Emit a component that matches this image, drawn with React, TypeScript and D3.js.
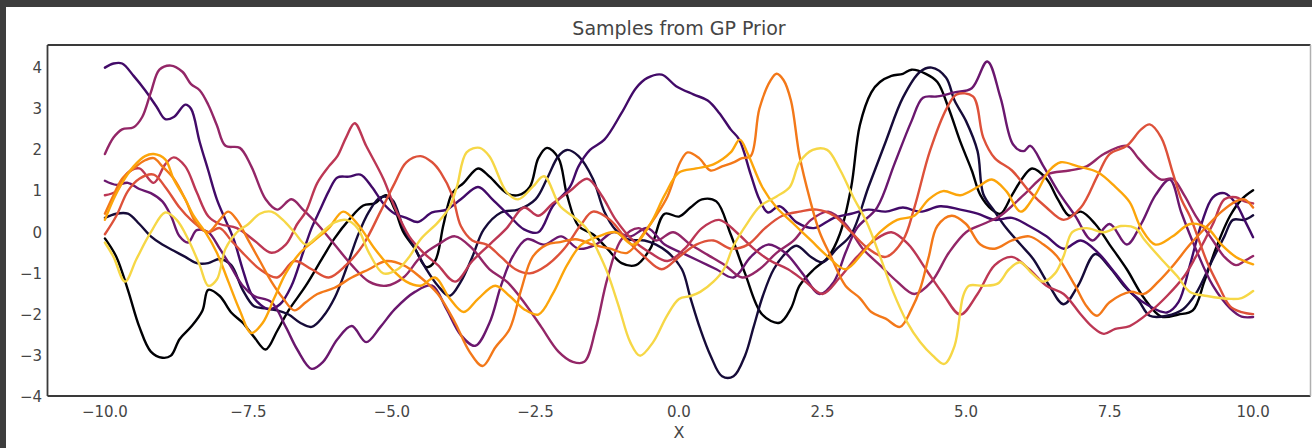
import React from "react";
import * as d3 from "d3";

const TITLE = "Samples from GP Prior";
const X_LABEL = "X";
const X_TICKS = [-10, -7.5, -5, -2.5, 0, 2.5, 5, 7.5, 10];
const Y_TICKS = [-4, -3, -2, -1, 0, 1, 2, 3, 4];
const X_DOMAIN: [number, number] = [-11, 11];
const Y_DOMAIN: [number, number] = [-3.98, 4.55];

type P = [number, number];

const sampleK: P[] = [[-10,-0.15],[-9.8,-0.6],[-9.6,-1.4],[-9.4,-2.3],[-9.2,-2.9],[-9.0,-3.05],[-8.85,-3.0],[-8.7,-2.6],[-8.5,-2.3],[-8.3,-1.9],[-8.2,-1.4],[-8.0,-1.55],[-7.8,-1.95],[-7.6,-2.2],[-7.4,-2.55],[-7.2,-2.85],[-7.0,-2.4],[-6.8,-1.9],[-6.5,-1.3],[-6.2,-0.6],[-6.0,-0.15],[-5.75,0.3],[-5.5,0.65],[-5.3,0.7],[-5.1,0.9],[-4.95,0.55],[-4.8,0.0],[-4.6,-0.4],[-4.4,-0.85],[-4.25,-0.7],[-4.1,0.2],[-3.95,0.95],[-3.75,1.2],[-3.5,1.55],[-3.3,1.35],[-3.0,0.95],[-2.8,0.9],[-2.6,1.1],[-2.45,1.8],[-2.3,2.05],[-2.1,1.8],[-1.95,0.9],[-1.75,0.15],[-1.5,-0.05],[-1.25,-0.4],[-1.0,-0.75],[-0.75,-0.8],[-0.5,-0.4],[-0.25,0.45],[0.0,0.38],[0.2,0.6],[0.4,0.8],[0.65,0.75],[0.9,-0.05],[1.15,-1.0],[1.45,-2.0],[1.75,-2.2],[1.95,-1.85],[2.1,-1.3],[2.35,-0.9],[2.6,-0.6],[2.8,-0.05],[3.0,1.1],[3.15,2.6],[3.35,3.4],[3.5,3.65],[3.7,3.8],[3.9,3.85],[4.05,3.95],[4.3,3.85],[4.5,3.65],[4.7,3.0],[4.9,2.2],[5.1,1.5],[5.25,0.9],[5.45,0.55],[5.6,0.45],[5.8,0.9],[6.0,1.35],[6.15,1.55],[6.4,1.3],[6.6,0.8],[6.8,0.4],[7.0,0.5],[7.25,0.2],[7.5,-0.3],[7.8,-0.9],[8.1,-1.6],[8.4,-2.05],[8.7,-2.0],[8.95,-1.9],[9.15,-1.2],[9.35,-0.4],[9.6,0.4],[9.8,0.8],[10,1.02]];

const sampleN: P[] = [[-10,0.35],[-9.8,0.45],[-9.6,0.45],[-9.4,0.2],[-9.2,-0.1],[-9.0,-0.3],[-8.8,-0.45],[-8.6,-0.6],[-8.4,-0.75],[-8.2,-0.75],[-8.0,-0.65],[-7.8,-0.8],[-7.6,-1.4],[-7.4,-1.8],[-7.2,-1.85],[-7.0,-1.9],[-6.8,-2.0],[-6.6,-2.2],[-6.4,-2.3],[-6.2,-2.05],[-6.0,-1.6],[-5.8,-0.9],[-5.6,-0.1],[-5.4,0.5],[-5.2,0.85],[-5.0,0.8],[-4.8,0.1],[-4.6,-0.4],[-4.4,-0.9],[-4.2,-1.3],[-4.0,-1.55],[-3.8,-1.2],[-3.6,-0.6],[-3.4,0.07],[-3.1,0.48],[-2.8,0.55],[-2.5,0.8],[-2.3,1.3],[-2.1,1.85],[-1.95,2.0],[-1.75,1.85],[-1.5,1.3],[-1.3,0.5],[-1.1,0.05],[-0.9,-0.17],[-0.6,-0.2],[-0.4,-0.3],[-0.2,-0.48],[0.05,-0.9],[0.2,-1.6],[0.37,-2.35],[0.55,-3.0],[0.75,-3.5],[0.95,-3.5],[1.15,-3.0],[1.3,-2.3],[1.46,-1.55],[1.65,-0.9],[1.88,-0.48],[2.05,-0.33],[2.3,-0.6],[2.5,-0.73],[2.75,-0.4],[3.0,-0.05],[3.3,1.1],[3.6,2.2],[3.9,3.27],[4.2,3.9],[4.4,4.0],[4.65,3.76],[4.8,3.2],[5.0,2.7],[5.2,1.97],[5.3,0.93],[5.5,0.5],[5.7,0.1],[5.95,-0.3],[6.17,-0.65],[6.45,-1.3],[6.7,-1.75],[6.95,-1.3],[7.25,-0.53],[7.5,-0.85],[7.75,-1.3],[8.0,-1.65],[8.2,-2.03],[8.5,-2.03],[8.78,-1.87],[9.0,-1.5],[9.3,-0.65],[9.5,-0.1],[9.65,0.3],[9.85,0.3],[10,0.41]];

const sampleP1: P[] = [[-10,4.0],[-9.85,4.1],[-9.7,4.1],[-9.5,3.8],[-9.3,3.45],[-9.1,3.05],[-8.95,2.75],[-8.8,2.8],[-8.6,3.1],[-8.5,3.0],[-8.35,2.2],[-8.2,1.5],[-8.05,0.8],[-7.9,0.3],[-7.75,-0.2],[-7.6,-0.9],[-7.45,-1.5],[-7.3,-1.75],[-7.15,-1.87],[-6.95,-1.75],[-6.75,-1.3],[-6.55,-0.5],[-6.4,0.1],[-6.25,0.55],[-6.1,1.0],[-5.95,1.33],[-5.75,1.35],[-5.55,1.4],[-5.35,1.1],[-5.15,0.7],[-4.95,0.45],[-4.75,0.35],[-4.55,0.25],[-4.3,0.48],[-4.05,0.55],[-3.8,0.8],[-3.5,1.1],[-3.25,0.8],[-2.95,0.39],[-2.7,0.07],[-2.45,0.0],[-2.2,0.63],[-1.9,1.1],[-1.75,1.6],[-1.55,2.0],[-1.3,2.25],[-1.0,2.9],[-0.75,3.5],[-0.55,3.75],[-0.3,3.83],[-0.05,3.55],[0.25,3.35],[0.5,3.2],[0.7,2.9],[0.9,2.5],[1.05,2.25],[1.25,1.4],[1.4,0.8],[1.55,0.48],[1.75,0.63],[2.05,0.24],[2.35,0.1],[2.7,0.35],[3.0,0.45],[3.3,0.55],[3.6,0.5],[3.9,0.6],[4.2,0.5],[4.55,0.63],[4.9,0.55],[5.2,0.45],[5.5,0.3],[5.8,0.35],[6.1,0.15],[6.4,-0.1],[6.7,-0.4],[7.0,-0.2],[7.3,-0.5],[7.6,-1.0],[7.9,-1.5],[8.2,-1.8],[8.5,-1.95],[8.7,-1.7],[8.9,-0.8],[9.1,0.2],[9.3,0.85],[9.5,0.95],[9.7,0.7],[9.85,0.3],[10,-0.12]];

const sampleP2: P[] = [[-10,1.25],[-9.8,1.15],[-9.6,1.2],[-9.4,1.05],[-9.2,0.95],[-9.0,0.75],[-8.85,0.4],[-8.7,-0.1],[-8.55,-0.25],[-8.4,0.05],[-8.2,0.0],[-8.0,-0.4],[-7.8,-0.85],[-7.6,-1.3],[-7.4,-1.55],[-7.1,-1.7],[-6.85,-2.3],[-6.65,-2.85],[-6.4,-3.32],[-6.2,-3.15],[-5.95,-2.6],[-5.7,-2.28],[-5.45,-2.67],[-5.2,-2.3],[-4.95,-1.87],[-4.6,-1.45],[-4.3,-1.3],[-4.05,-1.87],[-3.8,-2.5],[-3.55,-2.76],[-3.3,-2.2],[-3.1,-1.3],[-2.9,-0.6],[-2.65,-0.17],[-2.35,-0.3],[-2.05,-0.1],[-1.75,-0.4],[-1.45,-0.3],[-1.15,0.0],[-0.85,-0.1],[-0.55,0.1],[-0.25,-0.3],[0.05,-0.5],[0.35,-0.7],[0.65,-0.9],[0.95,-1.1],[1.25,-0.6],[1.55,-0.3],[1.85,-0.5],[2.15,-1.0],[2.45,-1.5],[2.7,-1.2],[2.9,-0.5],[3.1,0.1],[3.45,0.6],[3.75,1.65],[4.05,2.7],[4.25,3.27],[4.5,3.3],[4.8,3.4],[5.1,3.5],[5.37,4.15],[5.6,3.27],[5.82,2.13],[6.0,1.97],[6.12,2.1],[6.35,1.6],[6.6,1.0],[6.9,0.4],[7.2,-0.2],[7.5,0.2],[7.8,-0.3],[8.05,0.2],[8.3,0.9],[8.55,1.28],[8.75,0.48],[9.0,-0.4],[9.3,-1.3],[9.6,-1.85],[9.8,-2.05],[10,-2.06]];

const sampleM: P[] = [[-10,1.9],[-9.85,2.3],[-9.7,2.5],[-9.5,2.55],[-9.35,2.8],[-9.2,3.4],[-9.05,3.95],[-8.85,4.05],[-8.65,3.9],[-8.5,3.6],[-8.35,3.45],[-8.2,3.1],[-8.05,2.6],[-7.9,2.1],[-7.65,2.05],[-7.45,1.6],[-7.2,0.8],[-7.0,0.55],[-6.75,0.8],[-6.55,0.55],[-6.3,0.2],[-6.0,-0.3],[-5.7,-0.8],[-5.4,-1.2],[-5.1,-1.3],[-4.8,-1.1],[-4.5,-0.6],[-4.2,-0.3],[-3.9,-0.1],[-3.6,-0.4],[-3.3,-0.9],[-3.0,-1.2],[-2.7,-1.7],[-2.4,-2.3],[-2.1,-2.9],[-1.85,-3.15],[-1.65,-3.15],[-1.45,-2.35],[-1.25,-1.14],[-1.0,-0.17],[-0.7,0.1],[-0.4,-0.2],[-0.1,0.0],[0.2,-0.3],[0.5,-0.55],[0.8,-0.8],[1.1,-1.1],[1.4,-0.9],[1.7,-0.5],[2.0,-0.2],[2.3,0.3],[2.6,0.5],[2.9,0.2],[3.2,-0.4],[3.5,-0.8],[3.8,-1.2],[4.1,-1.5],[4.4,-1.2],[4.7,-0.5],[5.0,0.0],[5.3,0.2],[5.6,0.4],[6.0,0.9],[6.4,1.4],[6.8,1.5],[7.1,1.6],[7.4,1.9],[7.8,2.1],[8.0,1.8],[8.2,1.5],[8.4,1.28],[8.6,1.3],[8.8,0.9],[9.0,0.4],[9.3,-0.2],[9.5,-0.6],[9.7,-0.8],[9.85,-0.7],[10,-0.58]];

const sampleMR: P[] = [[-10,0.9],[-9.8,1.0],[-9.6,1.45],[-9.4,1.55],[-9.15,1.2],[-8.95,1.65],[-8.8,1.82],[-8.6,1.6],[-8.4,0.97],[-8.2,0.39],[-8.0,0.2],[-7.7,0.1],[-7.4,-0.2],[-7.1,-0.5],[-6.85,-0.3],[-6.65,0.2],[-6.5,0.5],[-6.3,1.2],[-6.1,1.6],[-5.95,1.85],[-5.8,2.3],[-5.65,2.65],[-5.45,2.1],[-5.15,1.3],[-4.95,0.6],[-4.7,-0.1],[-4.45,-0.5],[-4.2,-0.8],[-3.9,-1.2],[-3.6,-0.7],[-3.3,-0.3],[-3.0,0.1],[-2.7,0.6],[-2.45,0.4],[-2.2,0.7],[-1.9,1.0],[-1.6,1.3],[-1.35,0.9],[-1.1,0.3],[-0.8,-0.2],[-0.5,-0.5],[-0.2,-0.7],[0.1,-0.4],[0.4,0.1],[0.7,0.3],[1.0,0.0],[1.3,-0.4],[1.6,-0.7],[1.9,-0.9],[2.2,-1.2],[2.5,-1.5],[2.8,-1.1],[3.1,-0.6],[3.4,-0.2],[3.7,0.0],[4.0,-0.3],[4.3,-0.9],[4.6,-1.5],[4.9,-2.0],[5.2,-1.5],[5.5,-0.8],[5.8,-0.6],[6.1,-0.9],[6.4,-1.3],[6.7,-1.5],[7.0,-2.0],[7.2,-2.3],[7.4,-2.47],[7.6,-2.35],[7.85,-2.28],[8.2,-1.94],[8.5,-1.55],[8.8,-1.07],[9.0,-0.6],[9.3,0.2],[9.5,0.8],[9.7,0.85],[9.85,0.75],[10,0.7]];

const sampleR: P[] = [[-10,-0.05],[-9.8,0.4],[-9.6,1.0],[-9.4,1.3],[-9.15,1.4],[-8.95,1.1],[-8.7,0.6],[-8.5,0.3],[-8.2,0.0],[-8.0,0.1],[-7.8,-0.2],[-7.6,-0.5],[-7.3,-0.9],[-7.0,-1.1],[-6.7,-0.7],[-6.4,-0.9],[-6.1,-1.1],[-5.8,-0.8],[-5.5,-0.3],[-5.2,0.5],[-4.95,1.2],[-4.75,1.7],[-4.5,1.85],[-4.3,1.7],[-4.15,1.45],[-3.95,0.9],[-3.8,0.15],[-3.6,-0.2],[-3.35,-0.3],[-3.1,-0.6],[-2.85,-0.9],[-2.6,-1.0],[-2.3,-0.8],[-2.0,-0.4],[-1.7,0.2],[-1.5,0.5],[-1.2,0.3],[-0.9,-0.2],[-0.6,-0.6],[-0.3,-0.9],[0.0,-0.6],[0.3,-0.3],[0.6,-0.2],[0.9,-0.4],[1.2,-0.3],[1.5,0.1],[1.8,0.4],[2.1,0.5],[2.4,0.55],[2.7,0.4],[3.0,0.0],[3.3,-0.4],[3.6,-0.6],[3.9,-0.2],[4.1,0.6],[4.37,1.97],[4.67,3.03],[4.84,3.35],[5.12,3.3],[5.3,2.3],[5.5,1.8],[5.8,1.5],[6.1,1.0],[6.4,0.6],[6.7,0.3],[7.0,0.6],[7.3,1.4],[7.5,1.9],[7.8,2.1],[8.05,2.5],[8.2,2.62],[8.4,2.3],[8.6,1.45],[8.75,0.8],[8.9,0.39],[9.05,-0.17],[9.2,-0.73],[9.4,-1.3],[9.6,-1.8],[9.8,-1.94],[10,-1.99]];

const sampleRO: P[] = [[-10,0.45],[-9.85,0.9],[-9.7,1.3],[-9.5,1.55],[-9.3,1.75],[-9.15,1.8],[-9.0,1.6],[-8.8,1.3],[-8.6,0.8],[-8.4,0.2],[-8.2,0.0],[-8.0,0.3],[-7.85,0.5],[-7.7,0.3],[-7.5,-0.2],[-7.3,-0.7],[-7.1,-1.2],[-6.9,-1.6],[-6.7,-1.9],[-6.5,-1.7],[-6.3,-1.5],[-6.0,-1.35],[-5.7,-1.1],[-5.4,-0.9],[-5.1,-0.7],[-4.8,-0.8],[-4.5,-1.1],[-4.2,-1.5],[-3.9,-2.2],[-3.65,-2.9],[-3.42,-3.25],[-3.2,-2.8],[-2.95,-2.35],[-2.75,-1.4],[-2.55,-0.6],[-2.3,-0.3],[-2.07,-0.24],[-1.8,-0.17],[-1.5,-0.3],[-1.2,-0.4],[-0.9,-0.5],[-0.6,0.0],[-0.4,0.4],[-0.2,0.87],[0.02,1.7],[0.15,1.94],[0.35,1.8],[0.55,1.5],[0.75,1.6],[0.95,1.7],[1.1,1.8],[1.25,1.85],[1.4,3.0],[1.6,3.7],[1.7,3.85],[1.82,3.7],[1.95,3.2],[2.1,1.85],[2.28,0.8],[2.45,0.0],[2.65,-0.6],[2.9,-1.3],[3.15,-1.6],[3.35,-1.94],[3.6,-2.1],[3.85,-2.3],[4.05,-1.87],[4.2,-1.38],[4.35,-0.6],[4.5,0.15],[4.75,0.4],[5.0,0.2],[5.25,-0.3],[5.5,-0.4],[5.8,-0.2],[6.1,-0.1],[6.35,-0.3],[6.58,-0.58],[6.9,-1.3],[7.1,-1.8],[7.28,-2.03],[7.5,-1.7],[7.86,-1.45],[8.1,-1.5],[8.35,-1.2],[8.6,-0.82],[8.9,-0.3],[9.2,0.15],[9.45,0.5],[9.7,0.75],[9.85,0.8],[10,0.6]];

const sampleO: P[] = [[-10,0.3],[-9.85,0.8],[-9.7,1.2],[-9.5,1.6],[-9.3,1.85],[-9.15,1.9],[-8.95,1.77],[-8.8,1.28],[-8.6,0.8],[-8.45,0.39],[-8.25,0.0],[-8.05,-0.5],[-7.85,-1.2],[-7.65,-1.9],[-7.45,-2.45],[-7.25,-2.2],[-7.05,-1.6],[-6.85,-1.0],[-6.6,-0.5],[-6.35,-0.2],[-6.1,0.1],[-5.85,0.5],[-5.6,0.2],[-5.3,-0.4],[-5.0,-0.9],[-4.75,-1.2],[-4.5,-1.3],[-4.25,-1.1],[-4.0,-1.6],[-3.75,-1.94],[-3.5,-1.62],[-3.2,-1.3],[-2.95,-1.55],[-2.7,-1.87],[-2.45,-2.0],[-2.2,-1.5],[-1.95,-0.8],[-1.7,-0.3],[-1.4,-0.1],[-1.1,0.0],[-0.8,-0.3],[-0.5,0.2],[-0.25,0.9],[0.0,1.45],[0.3,1.55],[0.6,1.65],[0.9,1.94],[1.06,2.25],[1.2,1.9],[1.45,1.1],[1.7,0.6],[2.0,0.2],[2.3,-0.2],[2.6,-0.6],[2.9,-0.9],[3.2,-0.5],[3.5,0.0],[3.8,0.3],[4.1,0.4],[4.35,0.8],[4.6,1.0],[4.9,0.9],[5.2,1.1],[5.45,1.28],[5.7,1.0],[5.95,0.5],[6.2,0.9],[6.45,1.5],[6.65,1.7],[6.95,1.6],[7.3,1.45],[7.6,1.1],[7.85,0.73],[8.05,0.1],[8.3,-0.3],[8.6,-0.1],[8.9,0.2],[9.2,0.1],[9.45,-0.3],[9.7,-0.6],[9.85,-0.7],[10,-0.78]];

const sampleY: P[] = [[-10,-0.25],[-9.85,-0.6],[-9.65,-1.2],[-9.45,-0.65],[-9.2,0.0],[-8.95,0.48],[-8.75,0.3],[-8.55,-0.17],[-8.35,-0.8],[-8.2,-1.3],[-8.05,-1.15],[-7.9,-0.4],[-7.7,0.0],[-7.5,0.2],[-7.3,0.45],[-7.1,0.5],[-6.9,0.3],[-6.7,0.0],[-6.5,-0.3],[-6.3,-0.1],[-6.0,0.24],[-5.8,0.3],[-5.6,0.1],[-5.4,-0.5],[-5.15,-1.0],[-4.9,-0.9],[-4.7,-0.6],[-4.5,-0.17],[-4.2,0.24],[-4.0,0.6],[-3.87,1.1],[-3.7,1.94],[-3.47,2.05],[-3.3,1.84],[-3.0,0.97],[-2.8,0.8],[-2.55,1.1],[-2.35,1.36],[-2.07,0.63],[-1.85,0.39],[-1.6,0.07],[-1.43,-0.41],[-1.25,-0.97],[-1.05,-1.8],[-0.85,-2.67],[-0.68,-3.0],[-0.45,-2.67],[-0.21,-2.03],[0.0,-1.62],[0.2,-1.55],[0.37,-1.45],[0.6,-1.2],[0.78,-0.9],[0.95,-0.33],[1.2,0.24],[1.41,0.63],[1.7,0.87],[1.93,1.1],[2.1,1.7],[2.33,2.0],[2.58,2.0],[2.8,1.53],[3.03,0.87],[3.27,0.24],[3.5,-0.58],[3.73,-1.45],[3.97,-2.18],[4.2,-2.67],[4.42,-3.0],[4.62,-3.2],[4.8,-2.76],[4.95,-1.55],[5.05,-1.3],[5.3,-1.3],[5.55,-1.25],[5.75,-0.9],[5.94,-0.73],[6.15,-1.0],[6.34,-1.2],[6.55,-1.0],[6.7,-0.58],[6.85,0.0],[7.1,0.1],[7.4,0.0],[7.7,0.15],[7.95,0.1],[8.1,-0.17],[8.4,-0.65],[8.68,-1.07],[8.9,-1.45],[9.2,-1.55],[9.6,-1.62],[9.8,-1.6],[10,-1.43]];

const SAMPLES: P[][] = [sampleK, sampleN, sampleP1, sampleP2, sampleM, sampleMR, sampleR, sampleRO, sampleO, sampleY];
const COLOR_POSITIONS = [0, 0.1, 0.2, 0.3, 0.4, 0.5, 0.6, 0.7, 0.8, 0.9];

const fmtX = (v: number) => (v < 0 ? "\u2212" : "") + Math.abs(v).toFixed(1);
const fmtY = (v: number) => (v < 0 ? "\u2212" : "") + Math.abs(v).toFixed(0);

export default function App() {
  const W = 1312;
  const H = 448;
  const left = 47.5, right = 1310.5, top = 45, bottom = 396;
  const x = d3.scaleLinear().domain(X_DOMAIN).range([left, right]);
  const y = d3.scaleLinear().domain(Y_DOMAIN).range([bottom, top]);
  const line = d3
    .line<P>()
    .x((d) => x(d[0]))
    .y((d) => y(d[1]))
    .curve(d3.curveCatmullRom.alpha(0.5));
  const font = "'DejaVu Sans', sans-serif";
  const textColor = "#454545";
  return (
    <svg
      width={W}
      height={H}
      style={{ position: "absolute", left: 0, top: 0, display: "block" }}
    >
      <rect x={0} y={0} width={W} height={H} fill="#3d3d3d" />
      <rect x={6} y={7} width={W - 6} height={H - 7} fill="#ffffff" />
      <g>
        {SAMPLES.map((s, i) => (
          <path
            key={i}
            d={line(s) || ""}
            fill="none"
            stroke={d3.interpolateInferno(COLOR_POSITIONS[i])}
            strokeWidth={2.4}
            strokeLinejoin="round"
            strokeLinecap="round"
          />
        ))}
      </g>
      <line x1={left} x2={left} y1={top} y2={bottom} stroke="#3a3a3a" strokeWidth={1.8} />
      <line x1={left} x2={right} y1={bottom} y2={bottom} stroke="#3a3a3a" strokeWidth={1.8} />
      <line x1={left} x2={right} y1={top} y2={top} stroke="#3a3a3a" strokeWidth={1.8} />
      <line x1={right} x2={right} y1={top} y2={bottom} stroke="#b0b0b0" strokeWidth={1.5} />
      {X_TICKS.map((t) => (
        <text
          key={"x" + t}
          x={x(t)}
          y={417}
          textAnchor="middle"
          fontFamily={font}
          fontSize={15}
          fill={textColor}
        >
          {fmtX(t)}
        </text>
      ))}
      {Y_TICKS.map((t) => (
        <text
          key={"y" + t}
          x={42}
          y={y(t)}
          dy="0.36em"
          textAnchor="end"
          fontFamily={font}
          fontSize={15}
          fill={textColor}
        >
          {fmtY(t)}
        </text>
      ))}
      <text
        x={(left + right) / 2}
        y={35}
        textAnchor="middle"
        fontFamily={font}
        fontSize={19}
        fill={textColor}
      >
        {TITLE}
      </text>
      <text
        x={(left + right) / 2}
        y={438}
        textAnchor="middle"
        fontFamily={font}
        fontSize={16}
        fill={textColor}
      >
        {X_LABEL}
      </text>
    </svg>
  );
}
